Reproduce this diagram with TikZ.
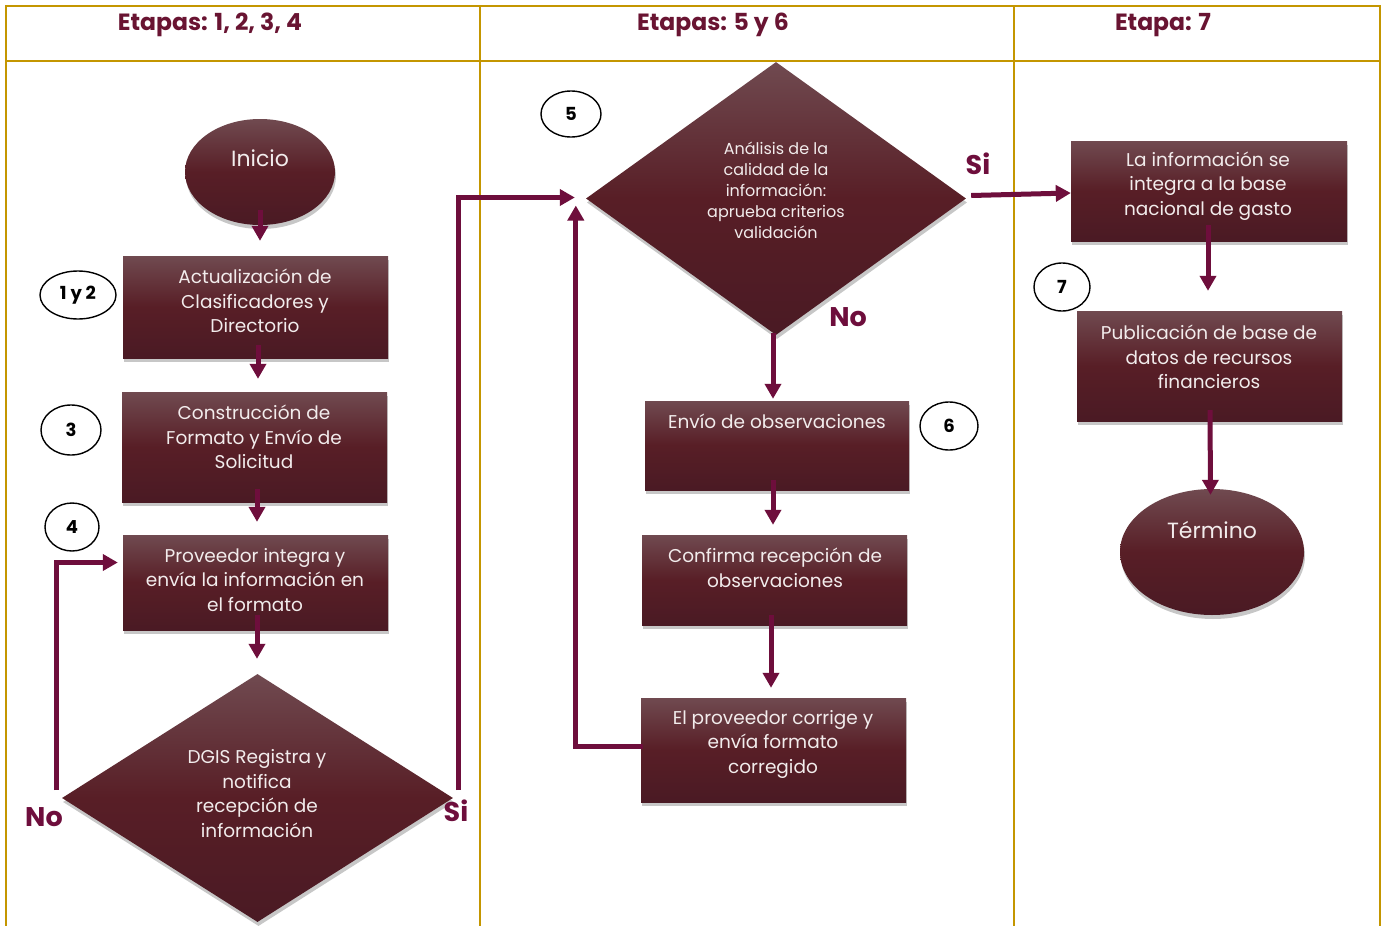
\documentclass[tikz,border=0pt]{standalone}
\usepackage{fontspec}
\setmainfont{Poppins}
\usetikzlibrary{arrows.meta,shapes.geometric,shadows,calc}
\definecolor{gold}{RGB}{196,150,0}
\definecolor{maroon}{RGB}{110,14,60}
\definecolor{htext}{RGB}{105,20,50}
\definecolor{btop}{RGB}{112,74,80}
\definecolor{bmid}{RGB}{88,30,38}
\definecolor{bbot}{RGB}{74,26,36}
\definecolor{wtext}{RGB}{242,236,236}
\begin{document}
\begin{tikzpicture}[x=1pt,y=-1pt,
  shaded/.style={draw=none, top color=btop, bottom color=bbot, middle color=bmid, inner sep=0pt,
    drop shadow={shadow xshift=1pt, shadow yshift=-4pt, opacity=0.22, fill=black}},
  box/.style={shaded, rectangle},
  dia/.style={shaded, diamond},
  oval/.style={shaded, ellipse},
  btext/.style={text=wtext, align=center, font=\fontsize{18.5}{24.5}\selectfont, inner sep=0pt},
  dtext/.style={text=wtext, align=center, font=\fontsize{16}{21}\selectfont, inner sep=0pt},
  otext/.style={text=wtext, font=\fontsize{22}{24}\selectfont, inner sep=0pt},
  num/.style={ellipse, draw=black, line width=1.4pt, fill=white, inner sep=0pt, font=\bfseries\fontsize{18}{20}\selectfont},
  head/.style={text=htext, font=\bfseries\fontsize{23.5}{26}\selectfont, inner sep=0pt, anchor=base},
  lab/.style={text=maroon, font=\bfseries\fontsize{27}{28}\selectfont, inner sep=0pt},
  arr/.style={draw=maroon, line width=5pt, -{Triangle[width=16pt,length=15pt]}}
]
\useasboundingbox (0,0) rectangle (1382,926);
\fill[white] (0,0) rectangle (1382,926);
% table frame
\draw[gold, line width=2pt] (6,926) -- (6,6) -- (1380,6) -- (1380,926);
\draw[gold, line width=2pt] (6,61) -- (1380,61);
\draw[gold, line width=2pt] (480,6) -- (480,926);
\draw[gold, line width=2pt] (1014,6) -- (1014,926);
\node[head] (h1) at (210,30) {Etapas: 1, 2, 3, 4};
\node[head] (h2) at (713,30) {Etapas: 5 y 6};
\node[head] (h3) at (1163,30) {Etapa: 7};

% column 1
\node[oval, minimum width=150pt, minimum height=106pt] (ini) at (260,172) {};
\node[otext] (tini) at (260,158) {Inicio};
\node[box, minimum width=265pt, minimum height=102pt] (b1) at (255.5,307) {};
\node[btext] (tb1) at (255,301) {Actualización de\\Clasificadores y\\Directorio};
\node[box, minimum width=265pt, minimum height=110pt] (b2) at (254.5,447) {};
\node[btext] (tb2) at (254,437) {Construcción de\\Formato y Envío de\\Solicitud};
\node[box, minimum width=265pt, minimum height=95pt] (b3) at (255.5,582.5) {};
\node[btext] (tb3) at (255,580) {Proveedor integra y\\envía la información en\\el formato};
\node[dia, minimum width=391pt, minimum height=248pt] (d1) at (257.5,798) {};
\node[btext] (td1) at (257,793.5) {DGIS Registra y\\notifica\\recepción de\\información};

% column 2
\node[dia, minimum width=380pt, minimum height=273pt] (d2) at (776,198.5) {};
\node[dtext] (td2) at (776,190) {Análisis de la\\calidad de la\\información:\\aprueba criterios\\validación};
\node[box, minimum width=264pt, minimum height=89pt] (env) at (777,445.5) {};
\node[btext] (tenv) at (777,421) {Envío de observaciones};
\node[box, minimum width=265pt, minimum height=90pt] (conf) at (774.5,580) {};
\node[btext] (tconf) at (775,568) {Confirma recepción de\\observaciones};
\node[box, minimum width=265pt, minimum height=104pt] (prov) at (773.5,750) {};
\node[btext] (tprov) at (773,744) {El proveedor corrige y\\envía formato\\corregido};

% column 3
\node[box, minimum width=276pt, minimum height=100pt] (int) at (1209,191) {};
\node[btext] (tint) at (1208,186) {La información se\\integra a la base\\nacional de gasto};
\node[box, minimum width=265pt, minimum height=110pt] (pub) at (1209.5,366) {};
\node[btext] (tpub) at (1209,357) {Publicación de base de\\datos de recursos\\financieros};
\node[oval, minimum width=184pt, minimum height=126pt] (ter) at (1212,552) {};
\node[otext] (tter) at (1212,530) {Término};

% step numbers
\node[num, minimum width=76pt, minimum height=48pt] (n12) at (78,295) {1 y 2};
\node[num, minimum width=60pt, minimum height=50pt] (n3) at (71,430) {3};
\node[num, minimum width=54pt, minimum height=48pt] (n4) at (72,527) {4};
\node[num, minimum width=60pt, minimum height=46pt] (n5) at (571,114) {5};
\node[num, minimum width=58pt, minimum height=48pt] (n6) at (949,426) {6};
\node[num, minimum width=56pt, minimum height=48pt] (n7) at (1062,287) {7};

% labels
\node[lab] (lno1) at (44,817) {No};
\node[lab] (lsi1) at (456,811) {Si};
\node[lab] (lsi2) at (978,164) {Si};
\node[lab] (lno2) at (848,317) {No};

% connectors
\draw[arr] ([yshift=15pt]ini.south) -- ([yshift=15pt]ini.south |- b1.north);
\draw[arr] ([xshift=2.5pt,yshift=13pt]b1.south) -- ([xshift=2.5pt,yshift=13pt]b1.south |- b2.north);
\draw[arr] ([xshift=2.5pt,yshift=13pt]b2.south) -- ([xshift=2.5pt,yshift=13pt]b2.south |- b3.north);
\draw[arr] ([xshift=1.5pt,yshift=15pt]b3.south) -- ([xshift=1.5pt,yshift=15pt]b3.south |- d1.north);
\draw[arr] ([xshift=-5pt,yshift=8pt]d1.west) |- ([xshift=-5pt,yshift=20pt]b3.west);
\draw[arr] ([xshift=5pt,yshift=8pt]d1.east) |- ([xshift=-11pt,yshift=1pt]d2.west);
\draw[arr] ([xshift=2pt,yshift=4pt]prov.west) -| ([xshift=-10pt,yshift=-7pt]d2.west);
\draw[arr] ([xshift=5pt,yshift=3pt]d2.east) -- ([yshift=-2pt]int.west);
\draw[arr] ([xshift=-3pt,yshift=2pt]d2.south) -- ([xshift=-3pt,yshift=2pt]d2.south |- env.north);
\draw[arr] ([xshift=-4pt,yshift=10pt]env.south) -- ([xshift=-4pt,yshift=10pt]env.south |- conf.north);
\draw[arr] ([xshift=-3.5pt,yshift=10pt]conf.south) -- ([xshift=-3.5pt,yshift=10pt]conf.south |- prov.north);
\draw[arr, shorten >=4pt] ([xshift=-1pt,yshift=16pt]int.south) -- ([xshift=-1pt,yshift=16pt]int.south |- pub.north);
\draw[arr] ([xshift=0.5pt,yshift=11pt]pub.south) -- ([xshift=-1.5pt,yshift=-6pt]ter.north);
\end{tikzpicture}
\end{document}
